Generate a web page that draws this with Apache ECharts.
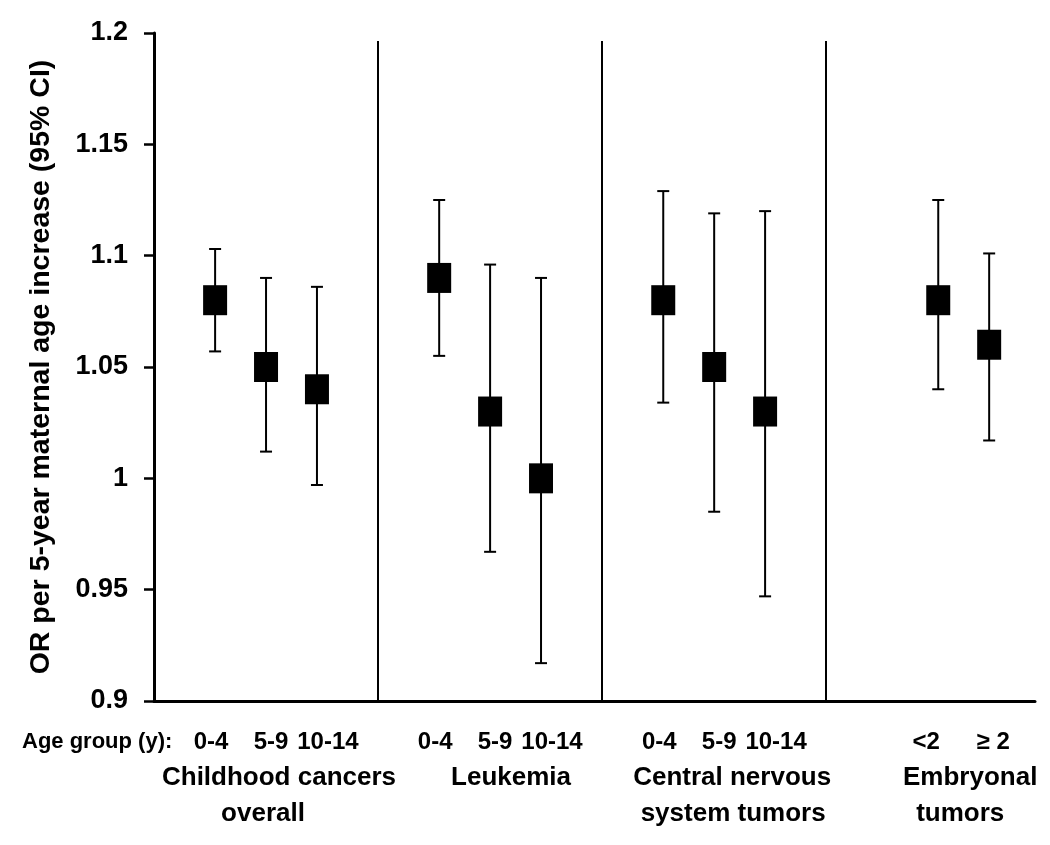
<!DOCTYPE html>
<html>
<head>
<meta charset="utf-8">
<script src="https://cdn.jsdelivr.net/npm/echarts@6/dist/echarts.min.js"></script>
<style>
  html, body { margin: 0; padding: 0; background: #fff; }
  #main { width: 1050px; height: 845px; }
</style>
</head>
<body>
<div id="main"></div>
<script>
// groups and their age classes
const groupNames = [
  ["Childhood cancers", "overall"],
  ["Leukemia"],
  ["Central nervous", "system tumors"],
  ["Embryonal", "tumors"],
];
const ageGroups = [
  ["0-4", "5-9", "10-14"],
  ["0-4", "5-9", "10-14"],
  ["0-4", "5-9", "10-14"],
  ["<2", "≥ 2"],
];
// odds ratio and 95% CI
const orValues = [
  [1.08, 1.05, 1.04],
  [1.09, 1.03, 1.0],
  [1.08, 1.05, 1.03],
  [1.08, 1.06],
];
const ciLower = [
  [1.057, 1.012, 0.997],
  [1.055, 0.967, 0.917],
  [1.034, 0.985, 0.947],
  [1.04, 1.017],
];
const ciUpper = [
  [1.103, 1.09, 1.086],
  [1.125, 1.096, 1.09],
  [1.129, 1.119, 1.12],
  [1.125, 1.101],
];
const yTicks = [0.9, 0.95, 1, 1.05, 1.1, 1.15, 1.2];

const font = "'Liberation Sans', Arial, sans-serif";
const groupWidth = 4.4; // x units per group
const firstSlot = 1.2;
// small nudges of the text (px), as in the original figure
const ageNudge = { "0-4": -4, "5-9": 5, "10-14": 11, "<2": -12, "≥ 2": 4 };
const nameOffset = [[125, 109], [133], [130, 131], [144, 134]];

// x position of each point: items fill the last slots of a 3-slot group
const points = [];
const bars = [];
ageGroups.forEach((ages, g) => {
  ages.forEach((age, i) => {
    const slot = 3 - ages.length + i;
    const x = g * groupWidth + firstSlot + slot;
    points.push([x, orValues[g][i]]);
    bars.push([x, ciLower[g][i], ciUpper[g][i]]);
  });
});
const separators = [1, 2, 3].map((k) => [
  { coord: [k * groupWidth, yTicks[0]] },
  { coord: [k * groupWidth, 1.1964] },
]);

var myChart = echarts.init(document.getElementById("main"));
var option = {
  animation: false,
  backgroundColor: "#fff",
  grid: { left: 154, right: 15, top: 33, bottom: 144 },
  xAxis: {
    type: "value",
    min: 0,
    max: 17.3,
    axisLine: { show: true, onZero: false, lineStyle: { color: "#000", width: 3 } },
    axisTick: { show: false },
    axisLabel: { show: false },
    splitLine: { show: false },
  },
  yAxis: {
    type: "value",
    min: yTicks[0],
    max: yTicks[yTicks.length - 1],
    interval: 0.05,
    name: "OR per 5-year maternal age increase (95% CI)",
    nameLocation: "middle",
    nameRotate: 90,
    nameGap: 98,
    nameTextStyle: { fontFamily: font, fontWeight: "bold", fontSize: 28.5, color: "#000" },
    axisLine: { show: true, lineStyle: { color: "#000", width: 3 } },
    axisTick: { show: true, inside: false, length: 10, lineStyle: { color: "#000", width: 2.5 } },
    axisLabel: {
      margin: 26,
      fontFamily: font,
      fontWeight: "bold",
      fontSize: 27,
      color: "#000",
      formatter: (v) => String(+v.toFixed(2)),
    },
    splitLine: { show: false },
  },
  series: [
    {
      type: "custom",
      data: bars,
      z: 2,
      renderItem: function (params, api) {
        const x = api.value(0);
        const lo = api.coord([x, api.value(1)]);
        const hi = api.coord([x, api.value(2)]);
        const style = { stroke: "#000", lineWidth: 2 };
        return {
          type: "group",
          children: [
            { type: "line", shape: { x1: lo[0], y1: lo[1], x2: hi[0], y2: hi[1] }, style: style },
            { type: "line", shape: { x1: hi[0] - 6, y1: hi[1], x2: hi[0] + 6, y2: hi[1] }, style: style },
            { type: "line", shape: { x1: lo[0] - 6, y1: lo[1], x2: lo[0] + 6, y2: lo[1] }, style: style },
          ],
        };
      },
      markLine: {
        silent: true,
        symbol: "none",
        label: { show: false },
        lineStyle: { color: "#000", width: 2, type: "solid" },
        data: separators,
      },
    },
    {
      type: "scatter",
      data: points,
      symbol: "rect",
      symbolSize: [24, 30],
      itemStyle: { color: "#000", opacity: 1 },
      z: 3,
    },
  ],
};
myChart.setOption(option);

// text under the axis, placed through the axis scale
const baseY = myChart.convertToPixel({ gridIndex: 0 }, [0, yTicks[0]])[1];
const graphics = [
  {
    type: "text",
    left: 22,
    top: baseY + 30,
    style: { text: "Age group (y):", fontFamily: font, fontWeight: "bold", fontSize: 22, fill: "#000" },
  },
];
const flatAges = ageGroups.flat();
points.forEach((p, k) => {
  const px = myChart.convertToPixel({ gridIndex: 0 }, p)[0];
  const label = flatAges[k];
  graphics.push({
    type: "text",
    x: px + ageNudge[label],
    y: baseY + 41,
    style: {
      text: label,
      fontFamily: font,
      fontWeight: "bold",
      fontSize: 24,
      fill: "#000",
      textAlign: "center",
      textVerticalAlign: "middle",
    },
  });
});
groupNames.forEach((lines, g) => {
  const gx = myChart.convertToPixel({ gridIndex: 0 }, [g * groupWidth, yTicks[0]])[0];
  lines.forEach((line, j) => {
    graphics.push({
      type: "text",
      x: gx + nameOffset[g][j],
      y: baseY + (lines.length === 1 ? 77 : 77 + j * 36),
      style: {
        text: line,
        fontFamily: font,
        fontWeight: "bold",
        fontSize: 26,
        fill: "#000",
        textAlign: "center",
        textVerticalAlign: "middle",
      },
    });
  });
});
myChart.setOption({ graphic: graphics });
</script>
</body>
</html>
